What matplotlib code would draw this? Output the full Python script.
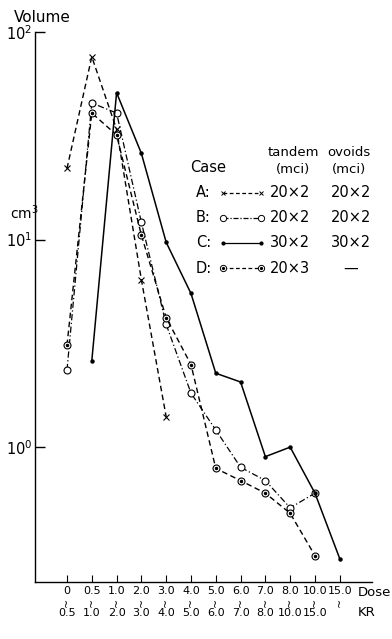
import matplotlib
matplotlib.use("Agg")
import matplotlib.pyplot as plt
from matplotlib.lines import Line2D
import matplotlib.transforms as mtransforms

plt.rcParams['font.family'] = ['DejaVu Sans']

# Dose intervals (KR)
dose_low = ["0", "0.5", "1.0", "2.0", "3.0", "4.0", "5.0", "6.0", "7.0", "8.0", "10.0", "15.0"]
dose_high = ["0.5", "1.0", "2.0", "3.0", "4.0", "5.0", "6.0", "7.0", "8.0", "10.0", "15.0", ""]

# Volumes (cm^3) per dose interval index
a_idx = [0, 1, 2, 3, 4]
a_vol = [22.0, 76.0, 34.0, 6.4, 1.4]

b_idx = [0, 1, 2, 3, 4, 5, 6, 7, 8, 9, 10]
b_vol = [2.35, 45.5, 40.7, 12.1, 3.9, 1.82, 1.21, 0.80, 0.69, 0.51, 0.60]

c_idx = [1, 2, 3, 4, 5, 6, 7, 8, 9, 10, 11]
c_vol = [2.6, 51.0, 26.0, 9.7, 5.5, 2.27, 2.06, 0.90, 1.0, 0.60, 0.29]

d_idx = [0, 1, 2, 3, 4, 5, 6, 7, 8, 9, 10]
d_vol = [3.1, 40.7, 31.9, 10.5, 4.2, 2.5, 0.79, 0.69, 0.60, 0.48, 0.30]

W, H = 392, 639
fig = plt.figure(figsize=(W / 100, H / 100), dpi=100)
ax = fig.add_axes([35 / W, 1 - 582 / H, (372 - 35) / W, (582 - 32) / H])

k = 'black'
ax.plot(a_idx, a_vol, color=k, lw=1.0, ls=(0, (4, 2.5)), marker='x', ms=4, mew=0.8)
ax.plot(b_idx, b_vol, color=k, lw=0.9, ls=(0, (5, 2, 1, 2)), marker='o', ms=5,
        mfc='white', mew=0.8)
ax.plot(c_idx, c_vol, color=k, lw=1.1, ls='-', marker='o', ms=2.2)
ax.plot(d_idx, d_vol, color=k, lw=1.0, ls=(0, (4, 2.5)), marker='o', ms=5,
        mfc='white', mew=0.8)
ax.plot(d_idx, d_vol, ls='none', marker='o', ms=1.5, color=k)

ax.set_yscale('log')
ax.set_ylim(0.224, 100)
ax.set_xlim(-1.29, 12.3)

ax.spines['top'].set_visible(False)
ax.spines['right'].set_visible(False)
ax.spines['left'].set_linewidth(1.0)
ax.spines['bottom'].set_linewidth(1.0)

ax.set_yticks([1, 10, 100])
ax.set_yticklabels(['10$^0$', '10$^1$', '10$^2$'], fontsize=10.5)
ax.yaxis.set_minor_locator(matplotlib.ticker.NullLocator())
ax.tick_params(axis='y', direction='in', length=7, width=1, pad=2)

ax.set_xticks(range(len(dose_low)))
ax.set_xticklabels([])
ax.tick_params(axis='x', direction='in', length=5, width=0.8)

trans = mtransforms.blended_transform_factory(ax.transData, fig.transFigure)
for i, (lo, hi) in enumerate(zip(dose_low, dose_high)):
    ax.text(i, 1 - 591 / H, lo, transform=trans, fontsize=8, ha='center', va='center')
    ax.text(i, 1 - 602 / H, "~", transform=trans, fontsize=8, ha='center', va='center',
            rotation=90)
    if hi:
        ax.text(i, 1 - 613 / H, hi, transform=trans, fontsize=8, ha='center', va='center')

def ft(x, y, s, **kw):
    fig.text(x / W, 1 - y / H, s, **kw)

ft(14, 17, "Volume", fontsize=11, va='center', ha='left')
ft(10, 213, "cm$^3$", fontsize=10, va='center', ha='left')
ft(358, 592, "Dose", fontsize=9.5, va='center', ha='left')
ft(358, 612, "KR", fontsize=9.5, va='center', ha='left')

# Legend (manual)
ft(190, 168, "Case", fontsize=10.5, va='center', ha='left')
ft(293, 153, "tandem", fontsize=9.5, va='center', ha='center')
ft(293, 169, "(mci)", fontsize=9.5, va='center', ha='center')
ft(349, 153, "ovoids", fontsize=9.5, va='center', ha='center')
ft(349, 169, "(mci)", fontsize=9.5, va='center', ha='center')

rows = [
    ("A:", 193, dict(ls=(0, (3, 2)), marker='x', ms=3.5, mew=0.7), "20×2", "20×2"),
    ("B:", 218, dict(ls=(0, (4, 1.5, 1, 1.5)), marker='o', ms=4.5, mfc='white', mew=0.7), "20×2", "20×2"),
    ("C:", 243, dict(ls='-', marker='o', ms=2), "30×2", "30×2"),
    ("D:", 268, dict(ls=(0, (3, 2)), marker='o', ms=4.5, mfc='white', mew=0.7), "20×3", "—"),
]
for lab, y, sty, tan, ovo in rows:
    ft(196, y, lab, fontsize=10.5, va='center', ha='left')
    ln = Line2D([223 / W, 261 / W], [1 - y / H, 1 - y / H], transform=fig.transFigure,
                color=k, lw=0.9, **sty)
    fig.add_artist(ln)
    if lab == "D:":
        fig.add_artist(Line2D([223 / W, 261 / W], [1 - y / H, 1 - y / H],
                              transform=fig.transFigure, ls='none', marker='o',
                              ms=1.3, color=k))
    ft(290, y, tan, fontsize=10.5, va='center', ha='center')
    ft(351, y, ovo, fontsize=10.5, va='center', ha='center')

fig.savefig("out.png", dpi=100)
